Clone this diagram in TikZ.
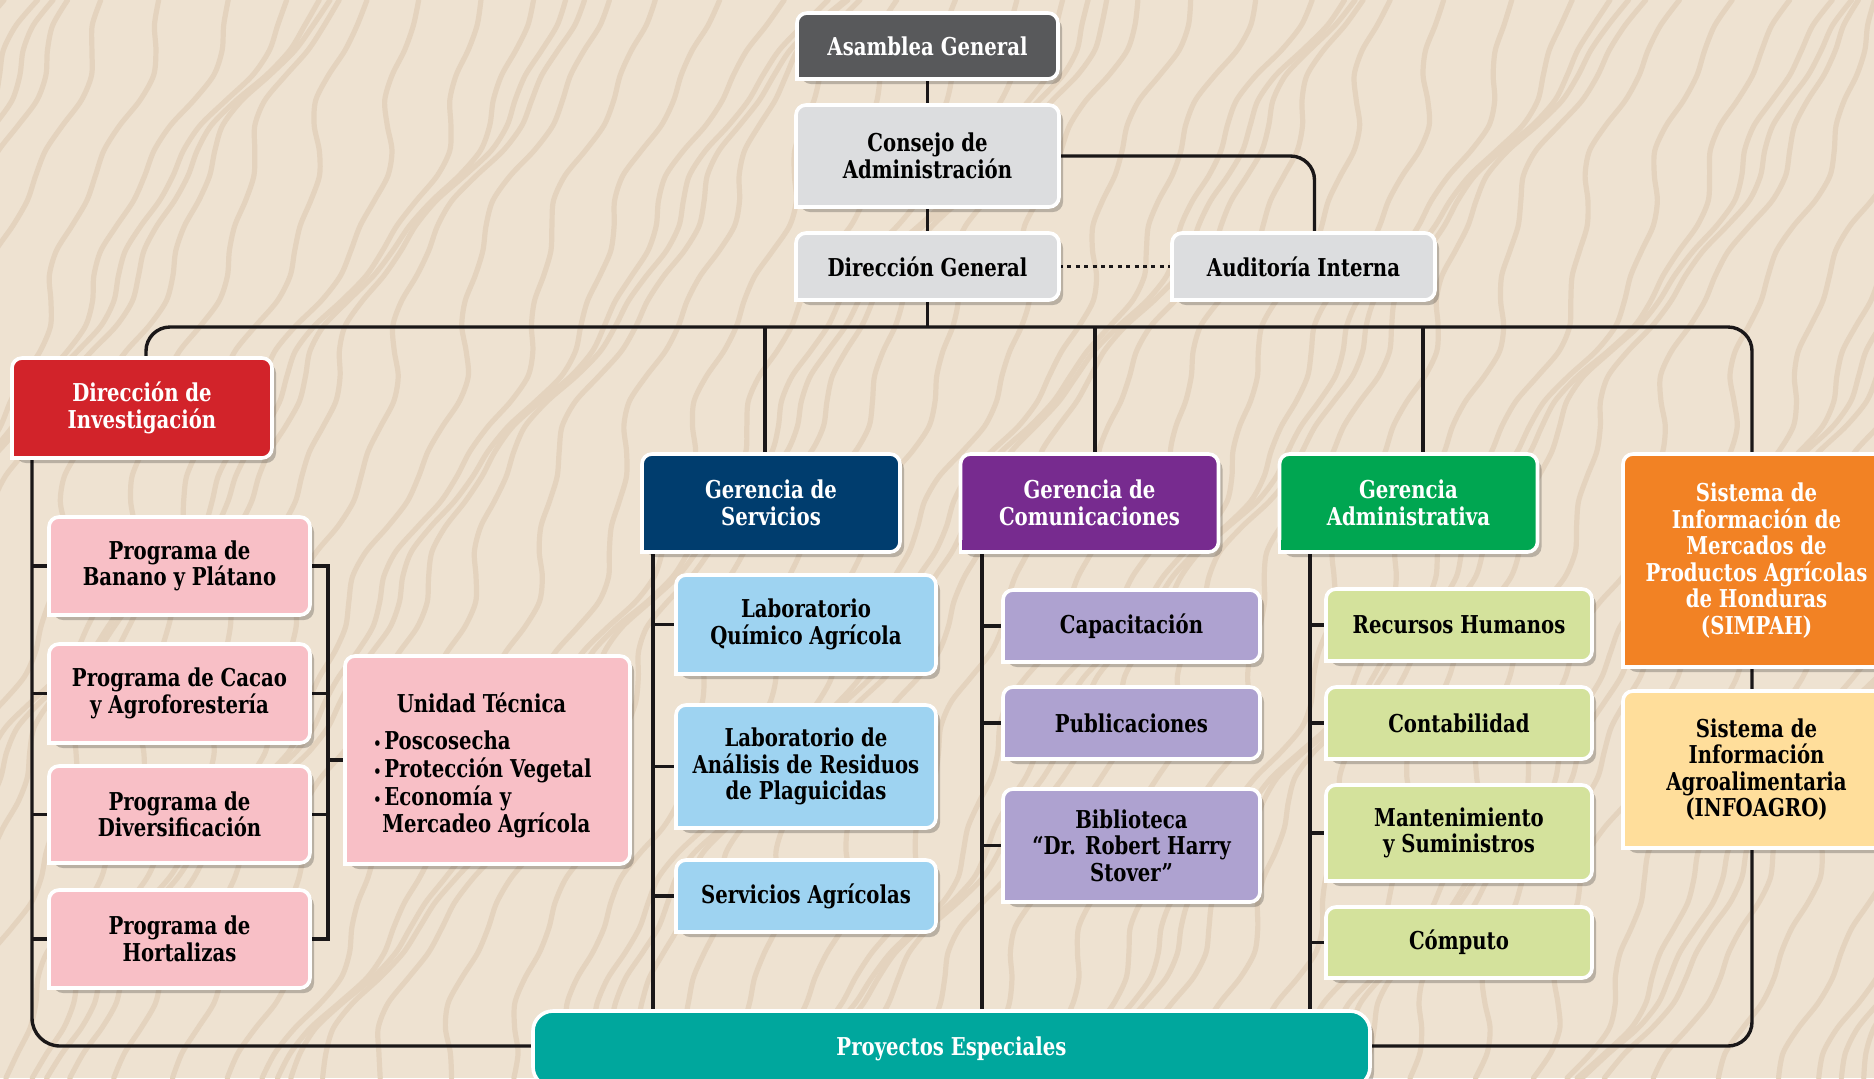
\documentclass[tikz,border=0pt]{standalone}
\usepackage{fontspec}
\setmainfont{DejaVu Serif}[FakeStretch=0.80]
\usetikzlibrary{shadows}
\pgfdeclarelayer{bgpic}
\pgfdeclarelayer{lines}
\pgfsetlayers{bgpic,lines,main}
\definecolor{bgc}{HTML}{EEE2D1}
\definecolor{contc}{HTML}{E4D3BE}
\definecolor{cAsm}{HTML}{58595B}
\definecolor{cGray}{HTML}{DCDDDF}
\definecolor{cRed}{HTML}{D2232A}
\definecolor{cNavy}{HTML}{003D6E}
\definecolor{cPurple}{HTML}{772B8F}
\definecolor{cGreen}{HTML}{00A651}
\definecolor{cOrange}{HTML}{F28224}
\definecolor{cYellow}{HTML}{FFDE9B}
\definecolor{cTeal}{HTML}{00A79D}
\definecolor{cPink}{HTML}{F8BFC6}
\definecolor{cBlue}{HTML}{9ED3F1}
\definecolor{cLav}{HTML}{AEA2D0}
\definecolor{cLime}{HTML}{D4E29C}
\definecolor{lnc}{HTML}{1A1718}
\tikzset{
  txt/.style={font=\bfseries\fontsize{12.3}{13.3}\selectfont, text=black},
  box/.style={rectangle, rounded corners=5pt, fill=#1, draw=white, line width=1.8pt,
    outer sep=0pt, inner sep=2pt, align=center, txt,
    drop shadow={shadow xshift=2pt, shadow yshift=-2.5pt, opacity=0.22, fill=black}},
  wbox/.style={box=#1, text=white},
  conn/.style={line width=1.7pt, draw=lnc},
  cont/.style={line width=2.6pt, draw=contc, line cap=round},
}
\newcommand{\bul}{\makebox[5.5pt][l]{\fontsize{8}{8}\selectfont •}}
\begin{document}
\begin{tikzpicture}[x=0.5pt,y=-0.5pt]
\useasboundingbox (0,0) rectangle (1874,1078);
\begin{pgfonlayer}{bgpic}
\fill[bgc] (0,0) rectangle (1874,1078);
\foreach \i in {0,...,72} {
  \draw[cont] plot[smooth, domain=0:1078, samples=44, variable=\t]
    ({-320 + 38*\i - 0.5*\t + 30*sin(0.35*\t + 53*\i) + 14*sin(1.1*\t + 29*\i) + 6*sin(2.9*\t + 17*\i)}, \t);
}
\end{pgfonlayer}

% top
\node[wbox=cAsm, minimum width=130.5pt, minimum height=33pt] (asm) at (927.5,46) {Asamblea General};
\node[box=cGray, minimum width=131.5pt, minimum height=51pt] (cons) at (927.5,156) {Consejo de\\Administración};
\node[box=cGray, minimum width=131.5pt, minimum height=33.5pt] (dirg) at (927.5,266.5) {Dirección General};
\node[box=cGray, minimum width=131.5pt, minimum height=33.5pt] (aud) at (1303.5,266.5) {Auditoría Interna};

% second level
\node[wbox=cRed, minimum width=130pt, minimum height=50pt] (dinv) at (142,408) {Dirección de\\Investigación};
\node[wbox=cNavy, minimum width=129pt, minimum height=49pt] (gs) at (771,503) {Gerencia de\\Servicios};
\node[wbox=cPurple, minimum width=129pt, minimum height=49pt] (gc) at (1089.5,503) {Gerencia de\\Comunicaciones};
\node[wbox=cGreen, minimum width=129pt, minimum height=49pt] (ga) at (1408.5,503) {Gerencia\\Administrativa};
\node[wbox=cOrange, minimum width=133.5pt, minimum height=106.5pt] (simpah) at (1756.5,560.5) {Sistema de\\Información de\\Mercados de\\Productos Agrícolas\\de Honduras\\(SIMPAH)};
\node[box=cYellow, minimum width=133.5pt, minimum height=78.5pt] (info) at (1756.5,769.5) {Sistema de\\Información\\Agroalimentaria\\(INFOAGRO)};
\node[wbox=cTeal, rounded corners=10pt, minimum width=418.5pt, minimum height=38pt] (proy) at (951.5,1049) {Proyectos Especiales};

% investigacion
\node[box=cPink, minimum width=130.5pt, minimum height=49pt] (p1) at (179.5,566) {Programa de\\Banano y Plátano};
\node[box=cPink, minimum width=130.5pt, minimum height=49.5pt] (p2) at (179.5,693.5) {Programa de Cacao\\y Agroforestería};
\node[box=cPink, minimum width=130.5pt, minimum height=48.5pt] (p3) at (179.5,814.5) {Programa de\\Diversificación};
\node[box=cPink, minimum width=130.5pt, minimum height=49pt] (p4) at (179.5,939) {Programa de\\Hortalizas};
\node[box=cPink, minimum width=142.5pt, minimum height=104pt] (ut) at (487.5,760) {};
\node[txt, inner sep=0pt] (utt) at (481.5,703) {Unidad Técnica};
\node[txt, inner sep=0pt, anchor=west] (utl) at (373,786) {\begin{tabular}{@{}l@{}}
  \bul Poscosecha\\
  \bul Protección Vegetal\\
  \bul Economía y\\
  \hspace*{4.5pt}Mercadeo Agrícola
  \end{tabular}};

% servicios
\node[box=cBlue, minimum width=130pt, minimum height=49.5pt] (b1) at (806,624.5) {Laboratorio\\Químico Agrícola};
\node[box=cBlue, minimum width=130pt, minimum height=61.5pt] (b2) at (806,766.5) {Laboratorio de\\Análisis de Residuos\\de Plaguicidas};
\node[box=cBlue, minimum width=130pt, minimum height=36pt] (b3) at (806,896) {Servicios Agrícolas};

% comunicaciones
\node[box=cLav, minimum width=128.5pt, minimum height=36pt] (l1) at (1131.5,626) {Capacitación};
\node[box=cLav, minimum width=128.5pt, minimum height=36pt] (l2) at (1131.5,723) {Publicaciones};
\node[box=cLav, minimum width=128.5pt, minimum height=56.5pt] (l3) at (1131.5,845.5) {Biblioteca\\“Dr. Robert Harry\\Stover”};

% administrativa
\node[box=cLime, minimum width=133pt, minimum height=36pt] (g1) at (1459,625) {Recursos Humanos};
\node[box=cLime, minimum width=133pt, minimum height=36pt] (g2) at (1459,723) {Contabilidad};
\node[box=cLime, minimum width=133pt, minimum height=48pt] (g3) at (1459,833) {Mantenimiento\\y Suministros};
\node[box=cLime, minimum width=133pt, minimum height=35.5pt] (g4) at (1459,942.5) {Cómputo};

% square bottom-left corners
\foreach \n/\c in {asm/cAsm, cons/cGray, dirg/cGray, aud/cGray, dinv/cRed, gs/cNavy, gc/cPurple,
  ga/cGreen, simpah/cOrange, info/cYellow, p1/cPink, p2/cPink, p3/cPink, p4/cPink, ut/cPink,
  b1/cBlue, b2/cBlue, b3/cBlue, l1/cLav, l2/cLav, l3/cLav, g1/cLime, g2/cLime, g3/cLime, g4/cLime} {
  \fill[\c] (\n.south west) rectangle ([shift={(6pt,6pt)}]\n.south west);
  \draw[white, line width=1.8pt] ([yshift=6pt]\n.south west) -- (\n.south west) -- ([xshift=6pt]\n.south west);
}

\coordinate (invL) at (32,458);
\coordinate (botL) at (32,1046);
\coordinate (busR) at (1752,327);
\coordinate (botR) at (1752,1046);
\coordinate (busY) at (0,327);
\coordinate (bx) at (328,0);
\coordinate (sx) at (653,0);
\coordinate (cx) at (982,0);
\coordinate (ax) at (1310,0);

\begin{pgfonlayer}{lines}
\draw[conn] (asm.south) -- (cons.north);
\draw[conn] (cons.south) -- (dirg.north);
\draw[conn, rounded corners=12pt] (cons.east) -| ([xshift=5.5pt]aud.north);
\draw[conn, dash pattern=on 2pt off 2.2pt] (dirg.east) -- (aud.west);
\draw[conn] (dirg.south) -- (dirg.south |- busY);
\draw[conn, rounded corners=12pt] ([xshift=2pt]dinv.north) |- (busR) -- (botR) -- (proy.east |- botR);
\draw[conn, rounded corners=14pt] (invL) -- (botL) -- (proy.west |- botL);
\draw[conn] ([xshift=-3pt]gs.north) -- ([xshift=-3pt]gs.north |- busY);
\draw[conn] ([xshift=2.75pt]gc.north) -- ([xshift=2.75pt]gc.north |- busY);
\draw[conn] ([xshift=7.25pt]ga.north) -- ([xshift=7.25pt]ga.north |- busY);
\draw[conn] (gs.south -| sx) -- (sx |- proy.north);
\draw[conn] (gc.south -| cx) -- (cx |- proy.north);
\draw[conn] (ga.south -| ax) -- (ax |- proy.north);
\foreach \n in {b1,b2,b3} \draw[conn] (\n.west) -- (\n.west -| sx);
\foreach \n in {l1,l2,l3} \draw[conn] (\n.west) -- (\n.west -| cx);
\foreach \n in {g1,g2,g3,g4} \draw[conn] (\n.west) -- (\n.west -| ax);
\foreach \n in {p1,p2,p3,p4} \draw[conn] (\n.west) -- (\n.west -| invL);
\draw[conn] (p1.east) -| (bx |- p4.east) -- (p4.east);
\draw[conn] (p2.east) -- (p2.east -| bx);
\draw[conn] (p3.east) -- (p3.east -| bx);
\draw[conn] (ut.west) -- (ut.west -| bx);
\end{pgfonlayer}
\end{tikzpicture}
\end{document}
